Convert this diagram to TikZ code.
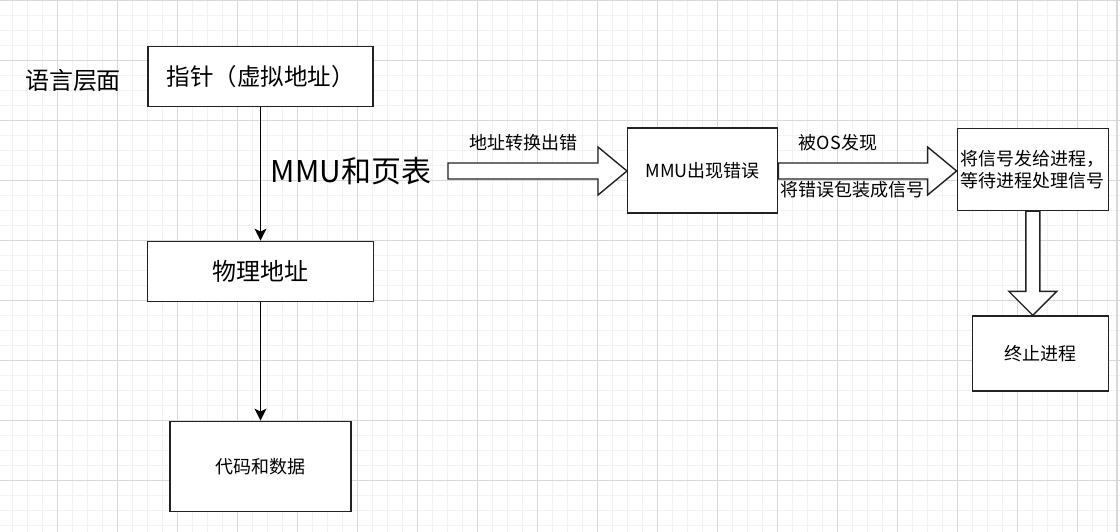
\documentclass[tikz,border=0pt]{standalone}
\usepackage{fontspec}
\setmainfont{Noto Sans CJK SC}
\usetikzlibrary{calc,arrows.meta}
\definecolor{minorc}{HTML}{F2F2F2}
\definecolor{majorc}{HTML}{D8D8D8}
\definecolor{edgec}{HTML}{222222}
\tikzset{
  minorline/.style={draw=minorc,line width=1.5pt},
  majorline/.style={draw=majorc,line width=1.1pt},
  box/.style={draw=edgec,line width=1.4pt,fill=white,inner sep=0pt,text=black},
  lbl/.style={inner sep=0pt,text=black},
  conn/.style={draw=black,line width=1.4pt,-{Stealth[length=12pt,width=12pt,inset=3pt]}},
  flexarrow/.style={draw=edgec,line width=1.4pt,fill=white}
}
\newcommand{\fs}[1]{\fontsize{#1}{#1}\selectfont}
\newcommand{\hflexarrow}[2]{%
  \path[flexarrow] let \p1=(#1), \p2=(#2) in
    (\x1,\y1+8pt) -- (\x2-29pt,\y1+8pt) -- (\x2-29pt,\y1+24pt) -- (\x2,\y1)
    -- (\x2-29pt,\y1-24pt) -- (\x2-29pt,\y1-8pt) -- (\x1,\y1-8pt) -- cycle;}
\newcommand{\vflexarrow}[2]{%
  \path[flexarrow] let \p1=(#1), \p2=(#2) in
    (\x1-7pt,\y1) -- (\x1-7pt,\y2+24pt) -- (\x1-24pt,\y2+24pt) -- (\x1,\y2)
    -- (\x1+24pt,\y2+24pt) -- (\x1+7pt,\y2+24pt) -- (\x1+7pt,\y1) -- cycle;}
\begin{document}
\begin{tikzpicture}[x=1pt,y=-1pt]
\useasboundingbox (0,0) rectangle (1120,532);
\fill[white] (0,0) rectangle (1120,532);
% grid
\foreach \i in {0,...,74} { \draw[minorline] ({12.3+15*\i},0) -- ({12.3+15*\i},532); }
\foreach \j in {0,...,35} { \draw[minorline] (0,{0.7+15*\j}) -- (1120,{0.7+15*\j}); }
\foreach \i in {0,...,17} { \draw[majorline] ({57.3+60*\i},0) -- ({57.3+60*\i},532); }
\foreach \j in {0,...,8} { \draw[majorline] (0,{0.7+60*\j}) -- (1120,{0.7+60*\j}); }
\draw[majorline] (1117,0) -- (1117,532);

% left column
\node[lbl,font=\fs{24}] (lang) at (73,80.5) {语言层面};
\node[box,minimum width=225pt,minimum height=60pt,font=\fs{23.5}] (ptr) at (260.5,76.3) {指针（虚拟地址）};
\node[box,minimum width=226pt,minimum height=60pt,font=\fs{24}] (phys) at (260.5,271.3) {物理地址};
\node[box,minimum width=181pt,minimum height=90pt,font=\fs{18}] (data) at (260.5,466.3) {代码和数据};
\draw[conn] (ptr.south) -- (phys.north);
\draw[conn] (phys.south) -- (data.north);
\node[lbl,font=\fs{30}] (mmulbl) at (351,171) {MMU和页表};

% right part
\node[box,minimum width=150pt,minimum height=85pt,font=\fs{18}] (mmu) at (702.7,170.7) {MMU出现错误};
\node[box,minimum width=151pt,minimum height=82pt,align=left,font=\fontsize{18}{22.5}\selectfont] (sig) at (1032.8,169.5) {将信号发给进程，\\等待进程处理信号};
\node[box,minimum width=136pt,minimum height=75pt,font=\fs{18}] (stop) at (1040.3,353.5) {终止进程};

\coordinate (a1s) at (448,171);
\hflexarrow{a1s}{mmu.west}
\coordinate (a2s) at (mmu.east |- a1s);
\hflexarrow{a2s}{sig.west}
\coordinate (a3e) at (sig.south |- stop.north);
\vflexarrow{sig.south}{a3e}

\node[lbl,font=\fs{18}] (l1) at (523,143) {地址转换出错};
\node[lbl,font=\fs{18}] (l2) at (838,143) {被OS发现};
\node[lbl,font=\fs{18}] (l3) at (852,190) {将错误包装成信号};
\end{tikzpicture}
\end{document}
